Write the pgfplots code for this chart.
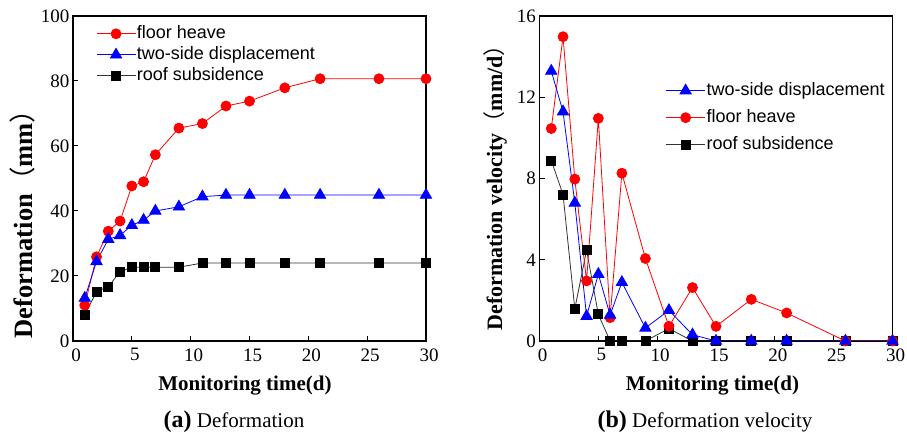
\documentclass[border=0pt]{standalone}
\usepackage{fontspec}
\setmainfont{Liberation Serif}
\newfontfamily\arial{Liberation Sans}
\newfontfamily\cjk{Noto Sans CJK SC}
\usepackage{pgfplots}
\pgfplotsset{compat=1.18}

\pgfplotsset{
  panel/.style={
    scale only axis, width=353pt, height=325pt,
    xmin=0, xmax=30, xtick={0,5,...,30},
    xtick pos=bottom, ytick pos=left, tick align=inside,
    major tick length=5pt,
    axis line style={line width=1.3pt},
    tick style={line width=1pt, black},
    /pgf/number format/assume math mode=true,
    tick label style={font=\fontsize{19}{19}\selectfont},
    xticklabel style={yshift=-4pt, xshift=3pt},
    xlabel={Monitoring time(d)},
    xlabel style={font=\fontsize{21}{21}\selectfont\bfseries, anchor=center},
    legend cell align=left,
    legend style={draw=none, fill=none, inner sep=0pt,
      font=\arial\fontsize{18}{18}\selectfont,
      nodes={inner sep=1pt, text height=13pt, text depth=4pt}},
    legend image code/.code={\draw[mark repeat=2,mark phase=2]
      plot coordinates {(0pt,0pt) (19.5pt,0pt) (39pt,0pt)};},
  },
  heave/.style={color=red, line width=0.8pt, mark=*, mark size=5pt,
    mark options={solid, fill=red}},
  side/.style={color=blue, line width=0.8pt, mark=triangle*, mark size=6.5pt,
    mark options={solid, fill=blue}},
  roof/.style={color=black!80, line width=0.8pt, mark=square*, mark size=4.5pt,
    mark options={solid, fill=black, draw=black}},
}

\begin{document}
\begin{tikzpicture}[x=1pt,y=1pt]
\useasboundingbox (0,0) rectangle (907,436);

% (a) deformation
\begin{axis}[panel, at={(73pt,95pt)}, anchor=south west,
  ymin=0, ymax=100, ytick={0,20,...,100},
  ylabel={Deformation{\cjk\mdseries （}mm{\cjk\mdseries ）}},
  ylabel style={font=\fontsize{26.5}{26.5}\selectfont\bfseries,
    at={(axis description cs:-0.142,0.38)}, anchor=center},
  xlabel style={at={(axis description cs:0.487,-0.138)}},
  legend style={at={(axis description cs:0.065,0.975)}, anchor=north west,
    row sep=2pt},
]
\addplot[heave] coordinates {(1,11.0) (2,25.9) (3,33.8) (4,36.9) (5,47.7) (6,49.0) (7,57.3) (9,65.5) (11,66.9) (13,72.3) (15,73.8) (18,77.9) (21,80.7) (26,80.7) (30,80.7)};
\addlegendentry{floor heave}
\addplot[side] coordinates {(1,13.2) (2,24.5) (3,31.3) (4,32.5) (5,35.6) (6,37.2) (7,40.0) (9,41.3) (11,44.4) (13,44.9) (15,44.9) (18,44.9) (21,44.9) (26,44.9) (30,44.9)};
\addlegendentry{two-side displacement}
\addplot[roof] coordinates {(1,8.0) (2,15.2) (3,16.7) (4,21.3) (5,22.7) (6,22.7) (7,22.7) (9,22.7) (11,24.0) (13,24.0) (15,24.0) (18,24.0) (21,24.0) (26,24.0) (30,24.0)};
\addlegendentry{roof subsidence}
\end{axis}

% (b) deformation velocity
\begin{axis}[panel, at={(539.5pt,95pt)}, anchor=south west,
  ymin=0, ymax=16, ytick={0,4,...,16},
  ylabel={Deformation velocity{\cjk\mdseries （}mm/d{\cjk\mdseries ）}},
  ylabel style={font=\fontsize{22}{22}\selectfont\bfseries,
    at={(axis description cs:-0.126,0.488)}, anchor=center},
  xlabel style={at={(axis description cs:0.49,-0.138)}},
  reverse legend,
  legend style={at={(axis description cs:0.357,0.8)}, anchor=north west,
    row sep=8pt},
]
\addplot[roof] coordinates {(1,8.89) (2,7.21) (3,1.58) (4,4.47) (5,1.31) (6,0) (7,0) (9,0) (11,0.61) (13,0) (15,0) (18,0) (21,0) (26,0) (30,0)};
\addlegendentry{roof subsidence}
\addplot[heave] coordinates {(1,10.46) (2,14.98) (3,7.97) (4,2.96) (5,10.96) (6,1.15) (7,8.26) (9,4.06) (11,0.72) (13,2.63) (15,0.72) (18,2.05) (21,1.38) (26,0) (30,0)};
\addlegendentry{floor heave}
\addplot[side] coordinates {(1,13.29) (2,11.29) (3,6.80) (4,1.22) (5,3.29) (6,1.28) (7,2.89) (9,0.64) (11,1.51) (13,0.31) (15,0) (18,0) (21,0) (26,0) (30,0)};
\addlegendentry{two-side displacement}
\end{axis}

\node[anchor=base] at (234,8) {\fontsize{24}{24}\selectfont\bfseries (a)\fontsize{21}{21}\selectfont\mdseries\ Deformation};
\node[anchor=base] at (705,8) {\fontsize{24}{24}\selectfont\bfseries (b)\fontsize{21}{21}\selectfont\mdseries\ Deformation velocity};
\end{tikzpicture}
\end{document}
